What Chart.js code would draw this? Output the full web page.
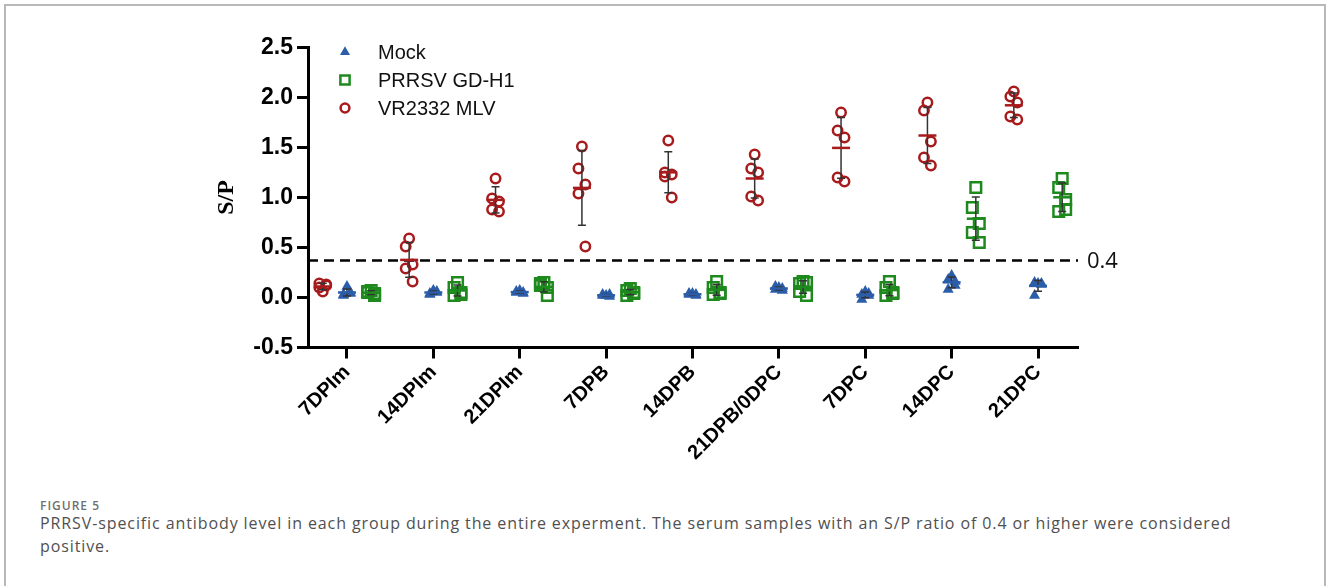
<!DOCTYPE html>
<html>
<head>
<meta charset="utf-8">
<script src="https://cdn.jsdelivr.net/npm/chart.js@4.4.1/dist/chart.umd.min.js"></script>
<style>
  body { margin: 0; background: #fff; }
  #wrap { position: relative; width: 1328px; height: 586px; overflow: hidden; }
  #frame { position: absolute; left: 4px; top: 4px; width: 1318px; height: 700px; border: 2px solid #b8b8b8; }
  #chart { position: absolute; left: 0; top: 0; }
  #fig { position: absolute; left: 40px; top: 497px; font: 600 12px 'Open Sans'; color: #707070; letter-spacing: 1px; }
  #cap { position: absolute; left: 40px; top: 512px; font: 16px 'Open Sans'; color: #505050; line-height: 23px; letter-spacing: 0.9px; white-space: nowrap; }
</style>
</head>
<body>
<div id="wrap">
  <div id="frame"></div>
  <canvas id="chart" width="1328" height="480"></canvas>
  <div id="fig">FIGURE 5</div>
  <div id="cap">PRRSV-specific antibody level in each group during the entire experment. The serum samples with an S/P ratio of 0.4 or higher were considered<br>positive.</div>
</div>
<script>
// sampling days (x categories)
var days = ['7DPIm', '14DPIm', '21DPIm', '7DPB', '14DPB', '21DPB/0DPC', '7DPC', '14DPC', '21DPC'];

// S/P values, 5 pigs per group per day
var mockValues = [
  [0.11, 0.03, 0.04, 0.02, 0.05],
  [0.07, 0.03, 0.05, 0.04, 0.06],
  [0.07, 0.05, 0.04, 0.06, 0.05],
  [0.02, 0.03, 0.01, 0.02, 0.03],
  [0.04, 0.03, 0.02, 0.04, 0.03],
  [0.10, 0.08, 0.07, 0.11, 0.09],
  [0.06, 0.03, 0.02, -0.02, 0.04],
  [0.22, 0.18, 0.16, 0.08, 0.12],
  [0.14, 0.15, 0.13, 0.02, 0.14]
];
var gdh1Values = [
  [0.07, 0.05, 0.02, 0.06, 0.04],
  [0.15, 0.10, 0.05, 0.02, 0.03],
  [0.15, 0.14, 0.10, 0.12, 0.02],
  [0.09, 0.07, 0.04, 0.02, 0.05],
  [0.16, 0.10, 0.05, 0.03, 0.04],
  [0.16, 0.14, 0.15, 0.06, 0.02],
  [0.16, 0.10, 0.05, 0.02, 0.04],
  [1.10, 0.90, 0.74, 0.65, 0.55],
  [1.19, 1.10, 0.98, 0.86, 0.88]
];
var mlvValues = [
  [0.06, 0.14, 0.12, 0.10, 0.13],
  [0.59, 0.51, 0.33, 0.29, 0.16],
  [1.19, 0.99, 0.96, 0.88, 0.86],
  [1.51, 1.29, 1.13, 1.04, 0.51],
  [1.57, 1.25, 1.23, 1.21, 1.00],
  [1.43, 1.29, 1.25, 1.01, 0.97],
  [1.85, 1.67, 1.60, 1.20, 1.16],
  [1.95, 1.87, 1.56, 1.40, 1.32],
  [2.06, 2.01, 1.95, 1.81, 1.78]
];
var yTicks = [-0.5, 0, 0.5, 1.0, 1.5, 2.0, 2.5];
var cutoff = 0.37;
var cutoffLabel = '0.4';

var groups = [
  { label: 'Mock', values: mockValues, shift: 0, color: '#2c5da8', style: 'triangle' },
  { label: 'PRRSV GD-H1', values: gdh1Values, shift: 0.28, color: '#1e8a1e', style: 'rect' },
  { label: 'VR2332 MLV', values: mlvValues, shift: -0.28, color: '#a81b1d', style: 'circle' }
];
var jitter = [0, -0.04, 0.04, -0.04, 0.04];
var radii = { triangle: 6.4, rect: 7.5, circle: 4.7 };

var datasets = groups.map(function(g) {
  var pts = [];
  g.values.forEach(function(vals, i) {
    vals.forEach(function(v, j) {
      pts.push({ x: i + g.shift + jitter[j], y: v });
    });
  });
  return {
    label: g.label,
    data: pts,
    pointStyle: g.style,
    pointRadius: radii[g.style],
    pointHoverRadius: radii[g.style],
    backgroundColor: g.style == 'triangle' ? g.color : 'rgba(0,0,0,0)',
    borderColor: g.color,
    borderWidth: g.style == 'triangle' ? 0 : 2.5
  };
});

function meanSd(vals) {
  var m = 0;
  vals.forEach(function(v) { m += v; });
  m = m / vals.length;
  var s = 0;
  vals.forEach(function(v) { s += (v - m) * (v - m); });
  return [m, Math.sqrt(s / (vals.length - 1))];
}

// dashed positivity cut-off
var cutoffPlugin = {
  id: 'cutoff',
  beforeDatasetsDraw: function(chart) {
    var ctx = chart.ctx, a = chart.chartArea;
    var y = chart.scales.y.getPixelForValue(cutoff);
    ctx.save();
    ctx.strokeStyle = '#000';
    ctx.lineWidth = 2.5;
    ctx.setLineDash([10, 6]);
    ctx.beginPath();
    ctx.moveTo(a.left, y);
    ctx.lineTo(a.right, y);
    ctx.stroke();
    ctx.setLineDash([]);
    ctx.fillStyle = '#111';
    ctx.font = '22px "Open Sans"';
    ctx.textBaseline = 'middle';
    ctx.fillText(cutoffLabel, a.right + 9, y + 1);
    ctx.restore();
  }
};

// mean +/- SD bars
var errorPlugin = {
  id: 'errorbars',
  afterDatasetsDraw: function(chart) {
    var ctx = chart.ctx, xs = chart.scales.x, ys = chart.scales.y;
    ctx.save();
    groups.forEach(function(g) {
      g.values.forEach(function(vals, i) {
        var ms = meanSd(vals);
        var x = xs.getPixelForValue(i + g.shift);
        var yt = ys.getPixelForValue(ms[0] + ms[1]);
        var yb = ys.getPixelForValue(ms[0] - ms[1]);
        var ym = ys.getPixelForValue(ms[0]);
        ctx.strokeStyle = '#333';
        ctx.lineWidth = 1.5;
        ctx.beginPath();
        ctx.moveTo(x, yt); ctx.lineTo(x, yb);
        ctx.moveTo(x - 4, yt); ctx.lineTo(x + 4, yt);
        ctx.moveTo(x - 4, yb); ctx.lineTo(x + 4, yb);
        ctx.stroke();
        ctx.strokeStyle = g.color;
        ctx.lineWidth = 2.5;
        ctx.beginPath();
        ctx.moveTo(x - 9, ym); ctx.lineTo(x + 9, ym);
        ctx.stroke();
      });
    });
    ctx.restore();
  }
};

// legend inside the plot, top left
var legendPlugin = {
  id: 'innerLegend',
  afterDraw: function(chart) {
    var ctx = chart.ctx;
    ctx.save();
    ctx.font = '20px "Liberation Sans", Arial';
    ctx.textBaseline = 'middle';
    groups.forEach(function(g, i) {
      var y = 52 + i * 28;
      ctx.fillStyle = g.style == 'triangle' ? g.color : 'rgba(0,0,0,0)';
      ctx.strokeStyle = g.color;
      ctx.lineWidth = 2.5;
      var r = g.style == 'triangle' ? 5.8 : (g.style == 'rect' ? 6.5 : 4.4);
      Chart.helpers.drawPoint(ctx, { pointStyle: g.style, radius: r, borderWidth: g.style == 'triangle' ? 0 : 2.5, rotation: 0 }, 345, y);
      ctx.fillStyle = '#111';
      ctx.fillText(g.label, 378, y + 1);
    });
    ctx.restore();
  }
};

var ctx = document.getElementById('chart').getContext('2d');
var myChart = new Chart(ctx, {
  type: 'scatter',
  data: { datasets: datasets },
  plugins: [cutoffPlugin, errorPlugin, legendPlugin],
  options: {
    responsive: false,
    animation: false,
    layout: { padding: { left: 200, right: 250, top: 47.5, bottom: 0 } },
    plugins: { legend: { display: false }, tooltip: { enabled: false } },
    scales: {
      x: {
        type: 'linear',
        min: -0.451,
        max: 8.463,
        afterBuildTicks: function(s) { s.ticks = days.map(function(d, i) { return { value: i }; }); },
        afterFit: function(s) { s.height = 132.5; },
        ticks: {
          autoSkip: false, minRotation: 45, maxRotation: 45, color: '#000', padding: 2,
          font: { family: '"Liberation Sans", Arial', size: 20, weight: 'bold' },
          callback: function(v) { return days[v]; }
        },
        grid: { drawOnChartArea: false, tickLength: 11, tickWidth: 3, tickColor: '#000' },
        border: { color: '#000', width: 3 }
      },
      y: {
        min: -0.5,
        max: 2.5,
        afterBuildTicks: function(s) { s.ticks = yTicks.map(function(v) { return { value: v }; }); },
        afterFit: function(s) { s.width = 108; },
        ticks: {
          color: '#000', padding: 4,
          font: { family: '"Liberation Sans", Arial', size: 23, weight: 'bold' },
          callback: function(v) { return v.toFixed(1); }
        },
        grid: { drawOnChartArea: false, tickLength: 11, tickWidth: 3, tickColor: '#000' },
        border: { color: '#000', width: 3 },
        title: {
          display: true, text: 'S/P', color: '#000',
          font: { family: '"Liberation Serif", "Times New Roman"', size: 24, weight: 'bold' },
          padding: { top: 12, bottom: 0 }
        }
      }
    }
  }
});
</script>
</body>
</html>
